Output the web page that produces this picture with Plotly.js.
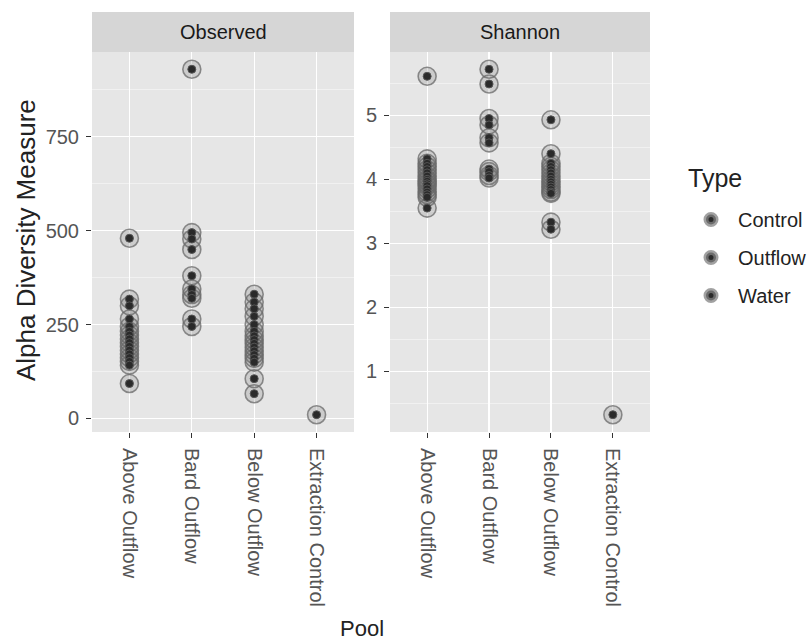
<!DOCTYPE html>
<html>
<head>
<meta charset="utf-8">
<script src="https://cdn.plot.ly/plotly-3.0.1.min.js"></script>
<style>html,body{margin:0;padding:0;background:#fff;}#chart{width:812px;height:641px;}</style>
</head>
<body>
<div id="chart"></div>
<script>
// ---- data ----
var pools = ["Above Outflow", "Bard Outflow", "Below Outflow", "Extraction Control"];
var poolTypes = ["Water", "Outflow", "Water", "Control"];
var typeOrder = ["Control", "Outflow", "Water"];
var facetNames = ["Observed", "Shannon"];

var observedAbove = [480, 318, 300, 265, 245, 232, 222, 212, 202, 192, 182, 172, 162, 152, 142, 93];
var observedBard = [930, 495, 478, 450, 380, 345, 330, 320, 265, 245];
var observedBelow = [331, 310, 292, 272, 250, 232, 220, 210, 200, 190, 180, 170, 160, 150, 106, 66];
var observedExtraction = [10];

var shannonAbove = [5.61, 4.32, 4.25, 4.2, 4.15, 4.1, 4.05, 4.0, 3.97, 3.93, 3.9, 3.85, 3.8, 3.76, 3.72, 3.55];
var shannonBard = [5.72, 5.49, 4.95, 4.85, 4.65, 4.57, 4.16, 4.12, 4.06, 4.02];
var shannonBelow = [4.93, 4.40, 4.25, 4.2, 4.15, 4.1, 4.05, 4.0, 3.96, 3.92, 3.88, 3.84, 3.8, 3.78, 3.33, 3.22];
var shannonExtraction = [0.32];

var observedTicks = [0, 250, 500, 750];
var shannonTicks = [1, 2, 3, 4, 5];

// ---- build ----
var facetData = [
  [observedAbove, observedBard, observedBelow, observedExtraction],
  [shannonAbove, shannonBard, shannonBelow, shannonExtraction]
];

var FONT = "Liberation Sans, Arial, Helvetica, sans-serif";
var traces = [];
var halo = {size: 18, color: "rgba(100,100,100,0.2)", line: {width: 1.6, color: "rgba(105,105,105,0.75)"}};
var core = {size: 8, color: "#2a2a2a", line: {width: 1, color: "#555"}};

function pointsFor(f, type) {
  var xs = [], ys = [];
  for (var p = 0; p < pools.length; p++) {
    if (poolTypes[p] !== type) continue;
    var vals = facetData[f][p];
    for (var i = 0; i < vals.length; i++) { xs.push(pools[p]); ys.push(vals[i]); }
  }
  return {x: xs, y: ys};
}

for (var f = 0; f < 2; f++) {
  var xa = f === 0 ? "x" : "x2", ya = f === 0 ? "y" : "y2";
  [halo, core].forEach(function (mk) {
    typeOrder.forEach(function (t) {
      var pts = pointsFor(f, t);
      traces.push({
        type: "scatter", mode: "markers", x: pts.x, y: pts.y, xaxis: xa, yaxis: ya,
        marker: mk, showlegend: false, legendgroup: t, hoverinfo: "x+y", name: t
      });
    });
  });
}
// legend entries
typeOrder.forEach(function (t) {
  traces.push({
    type: "scatter", mode: "markers", x: [null], y: [null], name: t, legendgroup: t,
    showlegend: true,
    marker: {size: 10, color: "#2a2a2a", line: {width: 5, color: "rgba(130,130,130,0.75)"}}
  });
});

function yRange(arrs) {
  var all = [].concat.apply([], arrs);
  var mn = Math.min.apply(null, all), mx = Math.max.apply(null, all);
  var pad = 0.05 * (mx - mn);
  return [mn - pad, mx + pad];
}

var W = 812, H = 641;
var panelTop = 52, panelBottom = 432, stripTop = 12;
var px = function (v) { return v / W; };
var py = function (v) { return 1 - v / H; };
var dom1 = [px(92), px(354)], dom2 = [px(390), px(650)];
var ydom = [py(panelBottom), py(panelTop)];

var tickFont = {family: FONT, size: 20, color: "#555"};
function xAxis(dom, anchor) {
  return {
    domain: dom, anchor: anchor, type: "category", categoryorder: "array", categoryarray: pools,
    range: [-0.6, 3.6], showgrid: true, gridcolor: "#fff", gridwidth: 1.1, zeroline: false,
    ticks: "outside", ticklen: 5, tickcolor: "#333", tickwidth: 1, tickangle: 90,
    ticklabelstandoff: 6,
    tickfont: tickFont, showline: false, fixedrange: true
  };
}
function yAxis(dom, anchor, rng, ticks, minorStep) {
  return {
    domain: dom, anchor: anchor, range: rng, tickvals: ticks, ticktext: ticks.map(String),
    showgrid: true, gridcolor: "#fff", gridwidth: 1.1, zeroline: false,
    ticks: "outside", ticklen: 5, tickcolor: "#333", tickwidth: 1,
    ticklabelstandoff: 3,
    tickfont: tickFont, showline: false, fixedrange: true,
    minor: {tickmode: "linear", tick0: ticks[0] - minorStep, dtick: minorStep * 2, showgrid: true, gridcolor: "rgba(255,255,255,0.75)", gridwidth: 0.6, ticks: ""}
  };
}

var layout = {
  width: W, height: H, autosize: false,
  margin: {l: 0, r: 0, t: 0, b: 0},
  paper_bgcolor: "#fff", plot_bgcolor: "#e6e6e6",
  font: {family: FONT, color: "#222"},
  xaxis: xAxis(dom1, "y"),
  xaxis2: xAxis(dom2, "y2"),
  yaxis: yAxis(ydom, "x", yRange(facetData[0]), observedTicks, 125),
  yaxis2: yAxis(ydom, "x2", yRange(facetData[1]), shannonTicks, 0.5),
  showlegend: true,
  legend: {
    x: px(684), y: py(200), xanchor: "left", yanchor: "top",
    font: {family: FONT, size: 20, color: "#222"},
    itemwidth: 44,
    traceorder: "grouped", tracegroupgap: 9, bgcolor: "rgba(0,0,0,0)"
  },
  shapes: [
    {type: "rect", xref: "paper", yref: "paper", x0: dom1[0], x1: dom1[1], y0: py(panelTop), y1: py(stripTop), fillcolor: "#d6d6d6", line: {width: 0}, layer: "below"},
    {type: "rect", xref: "paper", yref: "paper", x0: dom2[0], x1: dom2[1], y0: py(panelTop), y1: py(stripTop), fillcolor: "#d6d6d6", line: {width: 0}, layer: "below"}
  ],
  annotations: [
    {xref: "paper", yref: "paper", x: (dom1[0] + dom1[1]) / 2, y: py((panelTop + stripTop) / 2), text: facetNames[0], showarrow: false, xanchor: "center", yanchor: "middle", font: {family: FONT, size: 20, color: "#1a1a1a"}},
    {xref: "paper", yref: "paper", x: (dom2[0] + dom2[1]) / 2, y: py((panelTop + stripTop) / 2), text: facetNames[1], showarrow: false, xanchor: "center", yanchor: "middle", font: {family: FONT, size: 20, color: "#1a1a1a"}},
    {xref: "paper", yref: "paper", x: px(26), y: py(240), text: "Alpha Diversity Measure", textangle: -90, showarrow: false, xanchor: "center", yanchor: "middle", font: {family: FONT, size: 26, color: "#222"}},
    {xref: "paper", yref: "paper", x: px(362), y: py(628), text: "Pool", showarrow: false, xanchor: "center", yanchor: "middle", font: {family: FONT, size: 22, color: "#222"}},
    {xref: "paper", yref: "paper", x: px(686), y: py(178), text: "Type", showarrow: false, xanchor: "left", yanchor: "middle", font: {family: FONT, size: 25, color: "#222"}}
  ]
};

Plotly.newPlot("chart", traces, layout, {displayModeBar: false, staticPlot: true});
</script>
</body>
</html>
